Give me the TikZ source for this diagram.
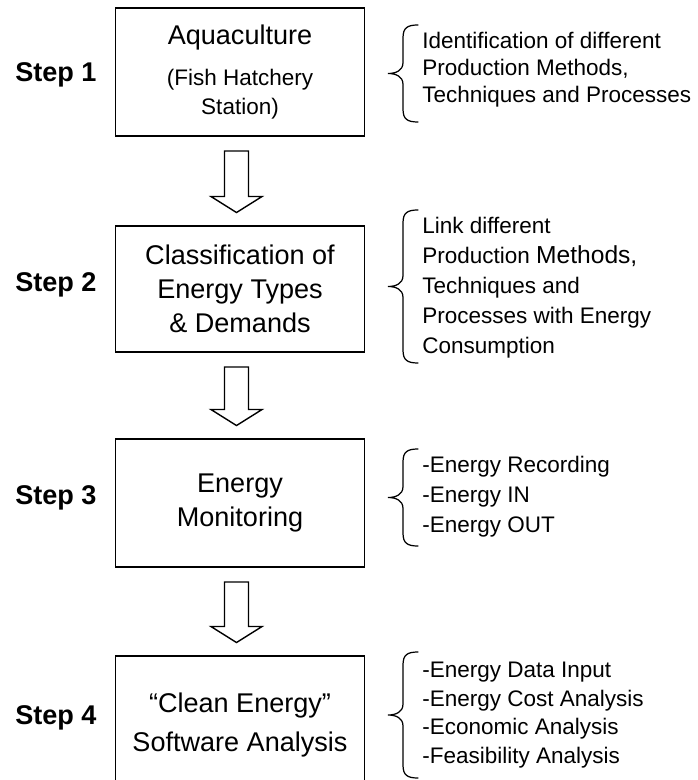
\documentclass[tikz,border=0pt]{standalone}
\usepackage{fontspec}
\setmainfont{Liberation Sans}
\usetikzlibrary{calc}

\begin{document}
\begin{tikzpicture}[
    scale=1,
    stepbox/.style={draw, line width=1.1pt, minimum width=4.98cm, minimum height=2.56cm, inner sep=0pt, align=center, font=\fontsize{15.4}{19.3}\selectfont},
    steplabel/.style={anchor=west, inner sep=0pt, font=\fontsize{15.4}{18}\selectfont\bfseries},
    notes/.style={anchor=west, inner sep=0pt, align=left, font=\fontsize{12.8}{#1}\selectfont},
    notes/.default=16.2,
    hollowarrow/.style={draw, line width=0.8pt, fill=white, line join=miter},
    curly/.style={line width=0.7pt, line cap=round}
    ]

    \useasboundingbox (0,0) rectangle (13.94,-15.6);

    % the four steps
    \node[stepbox] (aqua) at (4.8,-1.44) {Aquaculture\\[4pt]{\fontsize{12.8}{16}\selectfont(Fish Hatchery}\\[-2.8pt]{\fontsize{12.8}{16}\selectfont Station)}};
    \node[stepbox, minimum height=2.52cm] (classif) at (4.8,-5.78) {Classification of\\Energy Types\\\& Demands};
    \node[stepbox] (monitor) at (4.8,-10.06) {Energy\\Monitoring};
    \node[stepbox, minimum height=2.76cm] (software) at (4.8,-14.5) {“Clean Energy”\\[2.9pt]Software Analysis};

    \node[steplabel] (s1) at (0.3,-1.5) {Step 1};
    \node[steplabel] (s2) at (0.3,-5.7) {Step 2};
    \node[steplabel] (s3) at (0.3,-9.96) {Step 3};
    \node[steplabel] (s4) at (0.3,-14.36) {Step 4};

    % hollow arrows between the boxes
    \foreach \a/\b in {aqua/classif, classif/monitor, monitor/software}{
        \coordinate (top) at ($(\a.south)+(-0.07,-0.28)$);
        \coordinate (tip) at ($(\b.north)+(-0.07,0.25)$);
        \draw[hollowarrow] ($(top)+(-0.24,0)$) -- ($(top)+(0.24,0)$) -- ($(tip)+(0.24,0.32)$) -- ($(tip)+(0.51,0.32)$) -- (tip) -- ($(tip)+(-0.51,0.32)$) -- ($(tip)+(-0.24,0.32)$) -- cycle;
    }

    % remarks on the right
    \node[notes=15.4] (note1) at (8.44,-1.4) {Identification of different\\Production Methods,\\Techniques and Processes};
    \node[notes=17.1] (note2) at (8.44,-5.76) {Link different\\Production {\fontsize{14}{17}\selectfont Methods,}\\Techniques and\\Processes with Energy\\Consumption};
    \node[notes=17.1] (note3) at (8.44,-9.94) {-Energy Recording\\-Energy IN\\-Energy OUT};
    \node[notes=16.2] (note4) at (8.44,-14.3) {-Energy Data Input\\-Energy Cost Analysis\\-Economic Analysis\\-Feasibility Analysis};

    \foreach \yt/\yb in {-0.5/-2.44, -4.2/-7.26, -8.98/-10.92, -13.04/-15.56}{
        \pgfmathsetmacro\ym{(\yt+\yb)/2}
        \draw[curly] (8.36,\yt) .. controls (8.14,\yt) and (8.06,\yt-0.06) .. (8.06,\yt-0.26) -- (8.06,\ym+0.22) .. controls (8.06,\ym+0.06) and (7.92,\ym) .. (7.76,\ym) .. controls (7.92,\ym) and (8.06,\ym-0.06) .. (8.06,\ym-0.22) -- (8.06,\yb+0.26) .. controls (8.06,\yb+0.06) and (8.14,\yb) .. (8.36,\yb);
    }

\end{tikzpicture}
\end{document}
